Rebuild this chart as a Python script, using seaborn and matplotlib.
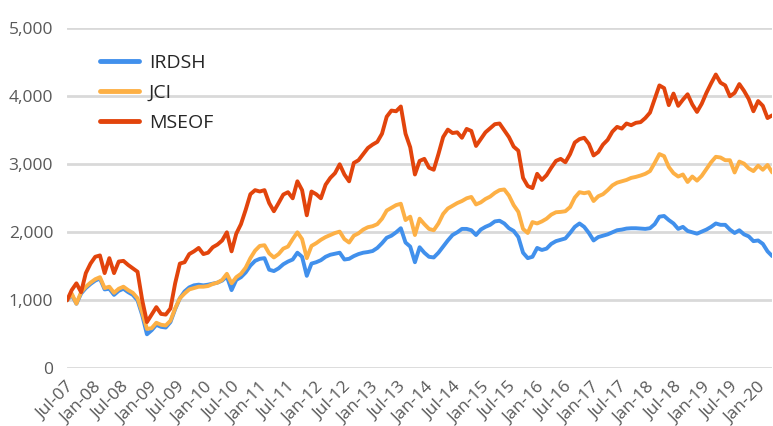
import pandas as pd
import matplotlib
matplotlib.use('Agg')
import matplotlib.pyplot as plt
import seaborn as sns

# values, roughly one per month across the axis
first_date = '2007-06-01'
last_date = '2020-03-01'

irdsh = [1000, 1080, 950, 1100, 1180, 1240, 1290, 1320, 1160, 1170,
         1080, 1140, 1170, 1120, 1080, 1000, 780, 500, 560, 640,
         610, 600, 680, 870, 1030, 1130, 1190, 1220, 1230, 1220,
         1230, 1245, 1260, 1290, 1350, 1150, 1300, 1340, 1410, 1510,
         1580, 1610, 1620, 1450, 1430, 1470, 1530, 1570, 1600, 1700,
         1640, 1360, 1540, 1560, 1590, 1640, 1670, 1685, 1700, 1600,
         1610, 1650, 1680, 1700, 1710, 1725, 1770, 1840, 1920, 1950,
         2000, 2060, 1850, 1790, 1560, 1780, 1700, 1640, 1630, 1700,
         1790, 1880, 1960, 2000, 2050, 2050, 2030, 1960, 2040, 2080,
         2110, 2160, 2170, 2130, 2060, 2020, 1930, 1700, 1620, 1640,
         1770, 1740, 1760, 1830, 1870, 1890, 1910, 1990, 2080, 2130,
         2080, 1990, 1880, 1930, 1950, 1970, 2000, 2030, 2040, 2055,
         2060, 2060, 2055, 2050, 2060, 2120, 2230, 2240, 2180, 2130,
         2050, 2080, 2020, 2000, 1980, 2010, 2040, 2080, 2130, 2110,
         2110, 2040, 1990, 2030, 1970, 1940, 1870, 1880, 1830, 1720,
         1650]

jci = [1000, 1100, 950, 1120, 1200, 1260, 1310, 1340, 1180, 1200,
       1110, 1170, 1200, 1150, 1110, 1030, 820, 580, 590, 670,
       640, 630, 700, 880, 1030, 1100, 1160, 1180, 1200, 1200,
       1210, 1240, 1260, 1300, 1390, 1250, 1340, 1390, 1480, 1620,
       1730, 1800, 1810, 1690, 1630, 1680, 1760, 1790, 1900, 2000,
       1900, 1620, 1800, 1840, 1890, 1930, 1960, 1990, 2010, 1900,
       1850, 1950, 1985, 2040, 2075, 2090, 2120, 2200, 2320, 2360,
       2400, 2420, 2180, 2230, 1960, 2200, 2120, 2050, 2030, 2130,
       2270, 2350, 2390, 2430, 2460, 2500, 2520, 2410, 2440, 2490,
       2525, 2580, 2620, 2630, 2540, 2400, 2300, 2050, 1990, 2150,
       2130, 2160, 2200, 2260, 2295, 2300, 2310, 2370, 2510, 2590,
       2575, 2590, 2460, 2530, 2560, 2620, 2690, 2730, 2750, 2770,
       2800, 2815, 2835, 2860, 2900, 3020, 3150, 3120, 2960, 2870,
       2820, 2850, 2740, 2820, 2760, 2830, 2930, 3030, 3110, 3100,
       3060, 3060, 2880, 3040, 3010, 2940, 2900, 2980, 2920, 2990,
       2880]

mseof = [1000, 1150, 1250, 1120, 1400, 1540, 1640, 1660, 1400, 1620,
         1400, 1570, 1580, 1520, 1470, 1420, 1000, 680, 790, 900,
         800, 790, 880, 1250, 1540, 1560, 1680, 1720, 1770, 1680,
         1700, 1780, 1820, 1880, 2000, 1720, 1980, 2120, 2330, 2560,
         2620, 2600, 2620, 2430, 2310, 2430, 2555, 2590, 2500, 2750,
         2620, 2250, 2600, 2560, 2500, 2700, 2800, 2870, 3000, 2850,
         2750, 3020, 3060, 3150, 3240, 3290, 3330, 3450, 3700, 3790,
         3780, 3850, 3450, 3250, 2850, 3050, 3080, 2950, 2920, 3150,
         3400, 3510, 3460, 3470, 3390, 3520, 3490, 3270, 3370, 3470,
         3530, 3590, 3600, 3500, 3400, 3260, 3200, 2800, 2680, 2650,
         2860, 2770, 2840, 2950, 3050, 3080, 3030, 3150, 3320, 3370,
         3390, 3300, 3130, 3180, 3290, 3360, 3480, 3550, 3525, 3600,
         3575, 3610, 3620, 3680, 3760, 3960, 4160, 4120, 3870, 4040,
         3860, 3950, 4030, 3880, 3770, 3890, 4050, 4190, 4320, 4200,
         4160, 4000, 4050, 4180, 4080, 3960, 3780, 3930, 3860, 3680,
         3720]

series_names = ['IRDSH', 'JCI', 'MSEOF']
colors = ['#4190ec', '#fdb045', '#e2440c']

dates = pd.date_range(first_date, last_date, periods=len(irdsh))
df = pd.DataFrame({'Date': dates, 'IRDSH': irdsh, 'JCI': jci, 'MSEOF': mseof})
long_df = df.melt(id_vars='Date', var_name='Series', value_name='Value')

sns.set_style('white')
plt.rcParams['font.family'] = ['Open Sans', 'DejaVu Sans']

fig = plt.figure(figsize=(7.73, 4.26), dpi=100)
ax = fig.add_axes([0.0867, 0.1354, 0.9123, 0.7982])

sns.lineplot(data=long_df, x='Date', y='Value', hue='Series',
             palette=dict(zip(series_names, colors)), linewidth=2.8, ax=ax)

# axes
ax.set_ylim(0, 5000)
ax.set_yticks(range(0, 5001, 1000))
ax.set_yticklabels([f'{v:,}' for v in range(0, 5001, 1000)])
ax.set_xlim(dates[0], dates[-1])
xticks = pd.date_range('2007-07-01', '2020-01-01', freq='6MS')
ax.set_xticks(xticks)
ax.set_xticklabels([d.strftime('%b-%y') for d in xticks], rotation=45,
                   ha='right', va='center', rotation_mode='anchor')

ax.set_xlabel('')
ax.set_ylabel('')
ax.grid(axis='y', color='#d9d9d9', linewidth=2)
ax.set_axisbelow(True)
for s in ax.spines.values():
    s.set_visible(False)
ax.tick_params(axis='both', length=0, labelsize=12.5, colors='#595959')
ax.tick_params(axis='y', pad=10)
ax.tick_params(axis='x', pad=12)

leg = ax.legend(loc='upper left', bbox_to_anchor=(0.022, 0.975), frameon=False,
                fontsize=14, handlelength=2.0, handletextpad=0.5,
                labelspacing=0.6)
for line in leg.get_lines():
    line.set_linewidth(3.5)

fig.savefig('out.png', dpi=100)
